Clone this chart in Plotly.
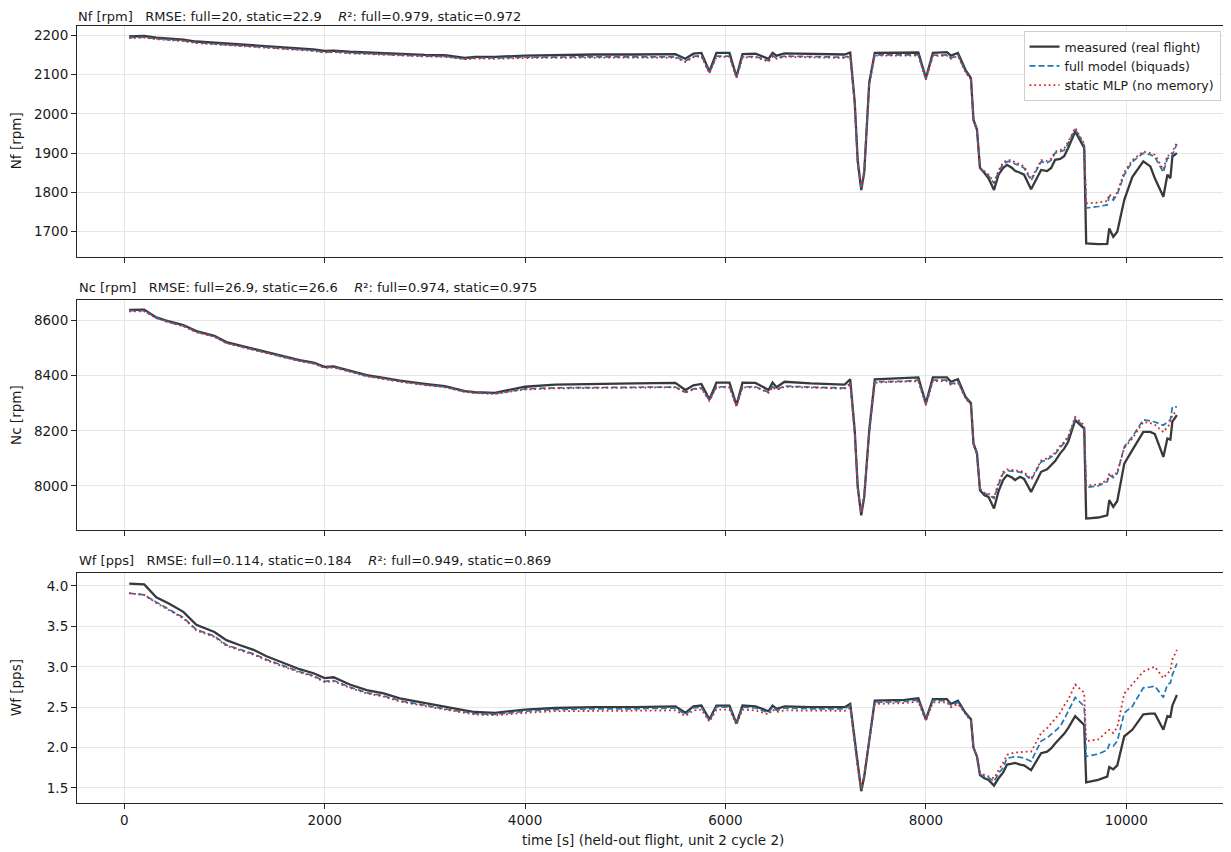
import plotly.graph_objects as go

# ---------------- data ----------------
time_s = [50, 200, 320, 450, 590, 720, 900, 1020, 1150, 1290, 1420, 1590, 1750, 1890, 2000,
          2090, 2250, 2420, 2590, 2750, 3000, 3200, 3400, 3500, 3700, 4000, 4300, 4700, 5100,
          5500, 5600, 5680, 5760, 5840, 5910, 6040, 6110, 6170, 6300, 6430, 6470, 6510, 6590,
          6850, 7190, 7245, 7290, 7320, 7355, 7385, 7435, 7490, 7790, 7925, 8000, 8070, 8210,
          8250, 8320, 8395, 8450, 8475, 8510, 8540, 8585, 8625, 8680, 8725, 8770, 8810, 8860,
          8890, 8940, 8980, 9050, 9150, 9210, 9250, 9290, 9340, 9380, 9420, 9490, 9580, 9600,
          9720, 9810, 9830, 9870, 9910, 9980, 10060, 10170, 10240, 10285, 10370, 10410, 10440,
          10460, 10505]

nf_measured = [2197, 2198, 2194, 2191, 2189, 2184, 2181, 2178, 2176, 2175, 2172, 2170, 2167, 2164, 2160,
               2161, 2158, 2156, 2155, 2153, 2150, 2149, 2142, 2145, 2145, 2148, 2150, 2151, 2151,
               2152, 2140, 2153, 2155, 2108, 2155, 2155, 2095, 2152, 2153, 2140, 2155, 2148, 2154,
               2152, 2151, 2156, 2030, 1880, 1806, 1850, 2080, 2155, 2155, 2156, 2091, 2155, 2157,
               2148, 2155, 2112, 2091, 1985, 1960, 1862, 1849, 1836, 1806, 1845, 1862, 1870, 1862,
               1855, 1850, 1845, 1808, 1857, 1854, 1862, 1883, 1885, 1892, 1913, 1955, 1913, 1670,
               1668, 1669, 1708, 1687, 1700, 1781, 1839, 1879, 1866, 1836, 1789, 1845, 1836,
               1891, 1900]
nf_full = [2194, 2195, 2191, 2188, 2186, 2181, 2178, 2175, 2173, 2172, 2169, 2167, 2164, 2161, 2157,
           2158, 2155, 2153, 2152, 2150, 2147, 2146, 2140, 2142, 2142, 2144, 2145, 2145, 2145,
           2145, 2134, 2146, 2148, 2104, 2147, 2147, 2092, 2145, 2146, 2135, 2148, 2142, 2147,
           2145, 2144, 2148, 2025, 1875, 1810, 1855, 2076, 2150, 2149, 2150, 2088, 2149, 2150,
           2142, 2149, 2108, 2088, 1983, 1958, 1862, 1852, 1842, 1823, 1852, 1872, 1878, 1878,
           1872, 1868, 1862, 1830, 1878, 1875, 1882, 1900, 1904, 1907, 1925, 1961, 1920, 1760,
           1764, 1768, 1790, 1780, 1795, 1845, 1878, 1900, 1896, 1890, 1851, 1887, 1887,
           1895, 1923]
nf_static = [2193, 2194, 2190, 2187, 2185, 2180, 2177, 2174, 2172, 2171, 2168, 2166, 2163, 2160, 2156,
             2157, 2154, 2152, 2151, 2149, 2146, 2145, 2139, 2141, 2140, 2142, 2143, 2143, 2143,
             2143, 2132, 2144, 2146, 2103, 2145, 2145, 2091, 2143, 2144, 2133, 2146, 2140, 2145,
             2143, 2142, 2146, 2022, 1873, 1812, 1857, 2074, 2148, 2147, 2148, 2087, 2147, 2148,
             2140, 2147, 2106, 2087, 1982, 1957, 1862, 1854, 1845, 1826, 1855, 1876, 1882, 1882,
             1876, 1872, 1866, 1834, 1882, 1880, 1886, 1904, 1908, 1911, 1929, 1964, 1924, 1772,
             1774, 1778, 1795, 1786, 1800, 1852, 1882, 1904, 1900, 1896, 1858, 1894, 1893,
             1903, 1927]

nc_measured = [8639, 8640, 8612, 8597, 8584, 8562, 8545, 8522, 8510, 8497, 8487, 8470, 8457, 8448, 8432,
               8434, 8418, 8402, 8392, 8382, 8370, 8362, 8344, 8340, 8338, 8360, 8368, 8371, 8372,
               8374, 8348, 8365, 8370, 8314, 8375, 8375, 8293, 8375, 8374, 8348, 8375, 8358, 8378,
               8372, 8368, 8387, 8202, 7996, 7893, 7960, 8202, 8387, 8390, 8394, 8300, 8394, 8394,
               8378, 8387, 8324, 8300, 8154, 8118, 7984, 7966, 7960, 7918, 7980, 8021, 8039, 8030,
               8021, 8033, 8025, 7978, 8051, 8060, 8075, 8090, 8118, 8135, 8160, 8239, 8208, 7881,
               7885, 7893, 7948, 7924, 7945, 8081, 8130, 8196, 8196, 8188, 8105, 8172, 8168,
               8233, 8257]
nc_full = [8636, 8636, 8610, 8594, 8581, 8559, 8542, 8519, 8507, 8494, 8484, 8467, 8454, 8445, 8429,
           8431, 8415, 8399, 8389, 8379, 8367, 8359, 8342, 8338, 8335, 8352, 8356, 8357, 8358,
           8359, 8340, 8352, 8356, 8310, 8360, 8360, 8290, 8360, 8360, 8340, 8360, 8350, 8362,
           8358, 8355, 8372, 8195, 7990, 7900, 7966, 8198, 8378, 8380, 8384, 8295, 8384, 8384,
           8370, 8378, 8320, 8296, 8152, 8116, 7988, 7972, 7968, 7954, 8005, 8045, 8055, 8053,
           8050, 8050, 8045, 8021, 8087, 8095, 8105, 8115, 8140, 8155, 8175, 8245, 8215, 7994,
           8000, 8015, 8040, 8030, 8045, 8142, 8178, 8240, 8236, 8232, 8220, 8230, 8240,
           8287, 8287]
nc_static = [8634, 8634, 8609, 8593, 8580, 8558, 8541, 8518, 8506, 8493, 8483, 8466, 8453, 8444, 8428,
             8430, 8414, 8398, 8388, 8378, 8366, 8358, 8341, 8337, 8334, 8350, 8354, 8356, 8357,
             8358, 8338, 8350, 8354, 8309, 8358, 8358, 8289, 8358, 8358, 8338, 8358, 8348, 8360,
             8356, 8353, 8370, 8193, 7988, 7902, 7968, 8196, 8375, 8377, 8380, 8293, 8380, 8380,
             8367, 8375, 8318, 8294, 8151, 8115, 7990, 7975, 7972, 7958, 8010, 8050, 8060, 8058,
             8055, 8055, 8050, 8025, 8092, 8100, 8110, 8120, 8145, 8160, 8180, 8250, 8220, 8000,
             8005, 8020, 8045, 8035, 8050, 8138, 8172, 8232, 8228, 8222, 8195, 8215, 8225,
             8260, 8269]

wf_measured = [4.03, 4.02, 3.86, 3.78, 3.68, 3.52, 3.43, 3.33, 3.27, 3.21, 3.13, 3.05, 2.97, 2.92, 2.86,
               2.87, 2.78, 2.71, 2.67, 2.61, 2.55, 2.51, 2.46, 2.44, 2.43, 2.47, 2.49, 2.50, 2.50,
               2.51, 2.43, 2.51, 2.52, 2.35, 2.52, 2.52, 2.30, 2.52, 2.51, 2.45, 2.52, 2.48, 2.51,
               2.50, 2.50, 2.54, 2.10, 1.77, 1.46, 1.64, 2.10, 2.58, 2.59, 2.61, 2.35, 2.60, 2.60,
               2.54, 2.58, 2.43, 2.35, 2.00, 1.89, 1.66, 1.62, 1.60, 1.53, 1.62, 1.69, 1.79, 1.80,
               1.81, 1.79, 1.78, 1.72, 1.93, 1.95, 1.99, 2.05, 2.12, 2.17, 2.24, 2.39, 2.28, 1.57,
               1.60, 1.64, 1.76, 1.73, 1.78, 2.14, 2.22, 2.41, 2.42, 2.42, 2.22, 2.39, 2.38,
               2.52, 2.65]
wf_full = [3.91, 3.89, 3.80, 3.71, 3.61, 3.46, 3.38, 3.27, 3.22, 3.16, 3.09, 3.01, 2.94, 2.89, 2.82,
           2.83, 2.75, 2.68, 2.64, 2.58, 2.52, 2.48, 2.44, 2.42, 2.41, 2.45, 2.47, 2.48, 2.48,
           2.49, 2.41, 2.49, 2.50, 2.33, 2.50, 2.50, 2.29, 2.50, 2.49, 2.43, 2.50, 2.46, 2.49,
           2.48, 2.48, 2.52, 2.08, 1.76, 1.48, 1.66, 2.09, 2.56, 2.57, 2.59, 2.34, 2.58, 2.58,
           2.52, 2.56, 2.42, 2.34, 2.00, 1.89, 1.67, 1.64, 1.63, 1.58, 1.68, 1.75, 1.87, 1.88,
           1.89, 1.88, 1.87, 1.83, 2.08, 2.12, 2.16, 2.21, 2.26, 2.35, 2.45, 2.62, 2.51, 1.89,
           1.92, 1.97, 2.04, 2.02, 2.08, 2.43, 2.51, 2.74, 2.75, 2.76, 2.62, 2.78, 2.80,
           2.90, 3.04]
wf_static = [3.91, 3.89, 3.79, 3.70, 3.60, 3.45, 3.37, 3.26, 3.21, 3.15, 3.08, 3.00, 2.93, 2.88, 2.81,
             2.82, 2.74, 2.67, 2.63, 2.57, 2.51, 2.47, 2.43, 2.41, 2.40, 2.43, 2.45, 2.455, 2.455,
             2.46, 2.39, 2.46, 2.47, 2.32, 2.47, 2.47, 2.28, 2.47, 2.46, 2.41, 2.47, 2.44, 2.46,
             2.455, 2.455, 2.49, 2.06, 1.75, 1.49, 1.67, 2.08, 2.54, 2.55, 2.57, 2.33, 2.56, 2.56,
             2.50, 2.54, 2.41, 2.33, 2.00, 1.89, 1.68, 1.66, 1.65, 1.62, 1.72, 1.81, 1.91, 1.93,
             1.94, 1.94, 1.95, 1.95, 2.18, 2.24, 2.30, 2.36, 2.43, 2.52, 2.59, 2.78, 2.68, 2.08,
             2.10, 2.20, 2.22, 2.18, 2.25, 2.67, 2.78, 2.94, 2.98, 3.00, 2.86, 2.92, 2.95,
             3.09, 3.21]

series_names = ["measured (real flight)", "full model (biquads)", "static MLP (no memory)"]
panel_titles = [
    "Nf [rpm]\u00a0\u00a0\u00a0RMSE: full=20, static=22.9\u00a0\u00a0\u00a0\u00a0<i>R</i>\u00b2: full=0.979, static=0.972",
    "Nc [rpm]\u00a0\u00a0\u00a0RMSE: full=26.9, static=26.6\u00a0\u00a0\u00a0\u00a0<i>R</i>\u00b2: full=0.974, static=0.975",
    "Wf [pps]\u00a0\u00a0\u00a0RMSE: full=0.114, static=0.184\u00a0\u00a0\u00a0\u00a0<i>R</i>\u00b2: full=0.949, static=0.869",
]
y_labels = ["Nf [rpm]", "Nc [rpm]", "Wf [pps]"]
x_label = "time [s] (held-out flight, unit 2 cycle 2)"
x_ticks = [0, 2000, 4000, 6000, 8000, 10000]
y_ticks = [[1700, 1800, 1900, 2000, 2100, 2200],
           [8000, 8200, 8400, 8600],
           [1.5, 2.0, 2.5, 3.0, 3.5, 4.0]]

# ---------------- figure ----------------
# the page body adds an 8px offset; the figure is shrunk/shifted to compensate
OFF = 8
W, H = 1231 - OFF, 852 - OFF
ML, MR, MT, MB = 77 - OFF, 3, 26 - OFF, 49
FONT = "DejaVu Sans"
TXT = "#1a1a1a"

panels = [
    (nf_measured, nf_full, nf_static),
    (nc_measured, nc_full, nc_static),
    (wf_measured, wf_full, wf_static),
]
styles = [
    dict(color="rgba(40,40,40,0.92)", width=2.3, dash="solid"),
    dict(color="#1f77b4", width=1.7, dash="6px,3px"),
    dict(color="#d62728", width=1.8, dash="1.8px,3px"),
]

fig = go.Figure()
for i, series in enumerate(panels):
    xa = "x" if i == 0 else f"x{i+1}"
    ya = "y" if i == 0 else f"y{i+1}"
    for j, vals in enumerate(series):
        fig.add_trace(go.Scatter(
            x=time_s, y=vals, mode="lines", name=series_names[j],
            line=styles[j], xaxis=xa, yaxis=ya, showlegend=(i == 0),
            legendrank=j + 1,
        ))

plot_h = H - MT - MB
plot_w = W - ML - MR
def frac_from_px(py):
    # py in page pixels
    return (H - MB - (py - OFF)) / plot_h

domains = [
    [frac_from_px(256.5), 1.0],
    [frac_from_px(529.9), frac_from_px(300.0)],
    [0.0, frac_from_px(573.3)],
]
y_ranges = [[1636.7, 2223.5], [7840, 8675], [1.314, 4.157]]
x_range = [-471, 11015]

axis_common = dict(
    showline=True, mirror=True, linecolor="#262626", linewidth=1.1,
    ticks="outside", ticklen=5, tickwidth=1, tickcolor="#262626",
    showgrid=True, gridcolor="#e6e6e6", gridwidth=1, zeroline=False,
    tickfont=dict(family=FONT, size=13.5, color=TXT),
)

layout = dict(
    width=W, height=H,
    margin=dict(l=ML, r=MR, t=MT, b=MB, pad=0),
    paper_bgcolor="white", plot_bgcolor="white",
    font=dict(family=FONT, color=TXT),
    legend=dict(
        x=0.9935, y=0.9935, xanchor="right", yanchor="top",
        bgcolor="rgba(255,255,255,0.85)", bordercolor="#cfcfcf", borderwidth=1,
        font=dict(family=FONT, size=12.5, color=TXT),
        tracegroupgap=0, itemwidth=30,
    ),
)
for i in range(3):
    xk = "xaxis" if i == 0 else f"xaxis{i+1}"
    yk = "yaxis" if i == 0 else f"yaxis{i+1}"
    ya = "y" if i == 0 else f"y{i+1}"
    xa = "x" if i == 0 else f"x{i+1}"
    layout[xk] = dict(axis_common, domain=[0, 1], anchor=ya, range=x_range,
                      tickvals=x_ticks, ticktext=[str(v) for v in x_ticks],
                      showticklabels=(i == 2))
    if i > 0:
        layout[xk]["matches"] = "x"
    yt = y_ticks[i]
    layout[yk] = dict(axis_common, domain=domains[i], anchor=xa, range=y_ranges[i],
                      tickvals=yt,
                      ticktext=[f"{v:.1f}" if i == 2 else f"{v:d}" for v in yt])

fig.update_layout(**layout)

annotations = []
for i in range(3):
    annotations.append(dict(
        text=panel_titles[i], xref="paper", yref="paper", x=0, y=domains[i][1],
        xanchor="left", yanchor="bottom", yshift=(1 if i == 0 else 3),
        borderpad=(0 if i == 0 else 1), showarrow=False,
        font=dict(family=FONT, size=13, color=TXT),
    ))
    annotations.append(dict(
        text=y_labels[i], xref="paper", yref="paper",
        x=(16 - OFF - ML) / plot_w, y=(domains[i][0] + domains[i][1]) / 2,
        xanchor="center", yanchor="middle", textangle=-90, showarrow=False,
        font=dict(family=FONT, size=13.5, color=TXT),
    ))
annotations.append(dict(
    text=x_label, xref="paper", yref="paper", x=0.5, y=0,
    xanchor="center", yanchor="middle", yshift=-37, showarrow=False,
    font=dict(family=FONT, size=13.5, color=TXT),
))
fig.update_layout(annotations=annotations)

fig.write_html("out.html")
